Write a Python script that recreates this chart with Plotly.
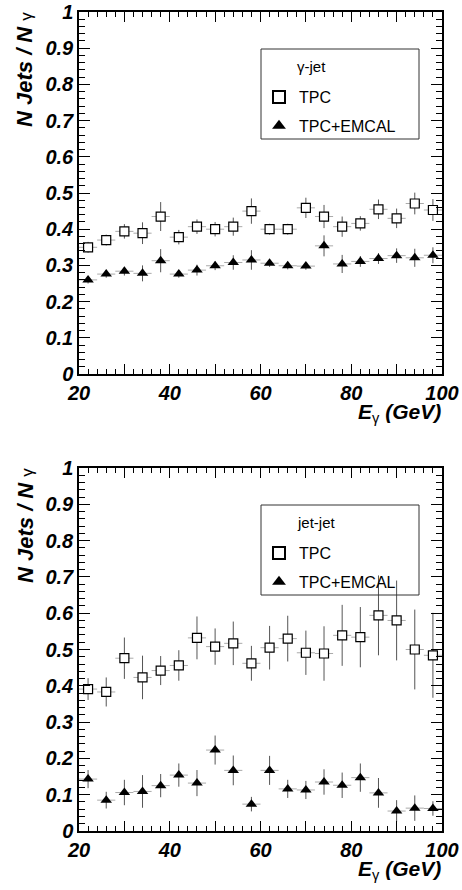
import plotly.graph_objects as go

W, H = 462, 890

e_gamma = [22, 26, 30, 34, 38, 42, 46, 50, 54, 58, 62, 66, 70, 74, 78, 82, 86, 90, 94, 98]
bin_half = 2

# gamma-jet
gj_tpc = [0.350, 0.370, 0.394, 0.389, 0.435, 0.378, 0.407, 0.400, 0.407, 0.450,
          0.400, 0.400, 0.459, 0.435, 0.407, 0.416, 0.455, 0.430, 0.471, 0.453]
gj_tpc_err = [0.015, 0.015, 0.020, 0.030, 0.040, 0.020, 0.020, 0.020, 0.025, 0.035,
              0.015, 0.015, 0.028, 0.032, 0.028, 0.020, 0.027, 0.027, 0.030, 0.030]
gj_emcal = [0.260, 0.276, 0.284, 0.278, 0.313, 0.276, 0.287, 0.299, 0.308, 0.315,
            0.306, 0.299, 0.298, 0.354, 0.304, 0.311, 0.319, 0.327, 0.321, 0.328]
gj_emcal_err = [0.010, 0.010, 0.012, 0.022, 0.032, 0.010, 0.015, 0.012, 0.020, 0.027,
                0.010, 0.010, 0.010, 0.029, 0.025, 0.015, 0.015, 0.020, 0.025, 0.022]

# jet-jet
jj_tpc = [0.391, 0.383, 0.476, 0.423, 0.442, 0.456, 0.532, 0.508, 0.517, 0.462,
          0.505, 0.530, 0.491, 0.489, 0.539, 0.534, 0.594, 0.580, 0.500, 0.484]
jj_tpc_err = [0.030, 0.040, 0.057, 0.060, 0.040, 0.042, 0.059, 0.050, 0.060, 0.048,
              0.060, 0.063, 0.061, 0.075, 0.084, 0.083, 0.110, 0.110, 0.110, 0.117]
jj_emcal = [0.143, 0.085, 0.106, 0.109, 0.125, 0.154, 0.132, 0.223, 0.167, 0.074,
            0.167, 0.116, 0.113, 0.135, 0.126, 0.147, 0.105, 0.055, 0.063, 0.062]
jj_emcal_err = [0.025, 0.023, 0.035, 0.045, 0.032, 0.032, 0.036, 0.040, 0.041, 0.020,
                0.040, 0.025, 0.025, 0.035, 0.035, 0.039, 0.041, 0.030, 0.035, 0.020]

x_tickvals = [20, 30, 40, 50, 60, 70, 80, 90, 100]
x_ticktext = ["20", " ", "40", " ", "60", " ", "80", " ", "100"]
y_tickvals = [0, 0.1, 0.2, 0.3, 0.4, 0.5, 0.6, 0.7, 0.8, 0.9, 1]
y_ticktext = ["0", "0.1", "0.2", "0.3", "0.4", "0.5", "0.6", "0.7", "0.8", "0.9", "1"]

panels = [("γ-jet", gj_tpc, gj_tpc_err, gj_emcal, gj_emcal_err),
          ("jet-jet", jj_tpc, jj_tpc_err, jj_emcal, jj_emcal_err)]


def px(p):
    return p / W


def py(p):
    return 1 - p / H


# plot frames in pixels: (top, bottom)
frames = [(12, 374), (468, 831)]
x_left, x_right = 79, 442

tickfont = dict(family="Liberation Sans", size=20, color="black", weight="bold", style="italic")

fig = go.Figure()
for i, (name, tpc, tpc_err, emc, emc_err) in enumerate(panels):
    n = "" if i == 0 else str(i + 1)
    leg = "legend" if i == 0 else "legend2"
    fig.add_trace(go.Scatter(
        x=e_gamma, y=tpc, mode="markers", name="TPC", legend=leg, legendgroup=f"a{i}",
        xaxis="x" + n, yaxis="y" + n,
        marker=dict(symbol="square", size=9, color="white", line=dict(color="black", width=1.2)),
        error_x=dict(type="constant", value=bin_half, width=0, thickness=1, color="#aaaaaa"),
        error_y=dict(type="data", array=tpc_err, width=0, thickness=1, color="#555555"),
    ))
    fig.add_trace(go.Scatter(
        x=e_gamma, y=emc, mode="markers", name="TPC+EMCAL", legend=leg, legendgroup=f"b{i}",
        xaxis="x" + n, yaxis="y" + n,
        marker=dict(symbol="triangle-up", size=10, color="black"),
        error_x=dict(type="constant", value=bin_half, width=0, thickness=1, color="#aaaaaa"),
        error_y=dict(type="data", array=emc_err, width=0, thickness=1, color="#555555"),
    ))

layout = dict(
    width=W, height=H,
    margin=dict(l=0, r=0, t=0, b=0),
    paper_bgcolor="white", plot_bgcolor="white",
    showlegend=True,
    annotations=[], shapes=[],
)

for i, (top, bot) in enumerate(frames):
    n = "" if i == 0 else str(i + 1)
    layout["xaxis" + n] = dict(
        domain=[px(x_left), px(x_right)], anchor="y" + n, range=[20, 100],
        tickmode="array", tickvals=x_tickvals, ticktext=x_ticktext,
        ticks="inside", ticklen=10, tickwidth=1, tickcolor="black",
        minor=dict(dtick=2, tick0=20, ticks="inside", ticklen=5, tickwidth=1, tickcolor="black"),
        showline=True, linecolor="black", linewidth=1.5, mirror="ticks",
        showgrid=False, zeroline=False, tickfont=tickfont, automargin=False,
    )
    layout["yaxis" + n] = dict(
        domain=[py(bot), py(top)], anchor="x" + n, range=[0, 1],
        tickmode="array", tickvals=y_tickvals, ticktext=y_ticktext,
        ticks="inside", ticklen=11, tickwidth=1, tickcolor="black",
        minor=dict(dtick=0.02, tick0=0, ticks="inside", ticklen=6, tickwidth=1, tickcolor="black"),
        showline=True, linecolor="black", linewidth=1.5, mirror="ticks",
        showgrid=False, zeroline=False, tickfont=tickfont, automargin=False,
    )
    # legend box + header
    box_top = top + 37
    layout["shapes"].append(dict(
        type="rect", xref="paper", yref="paper",
        x0=px(261), x1=px(419), y0=py(box_top + 90), y1=py(box_top),
        line=dict(color="#333333", width=1), fillcolor="rgba(0,0,0,0)",
    ))
    layout["annotations"].append(dict(
        text=panels[i][0], xref="paper", yref="paper", x=px(295), y=py(box_top + 17),
        xanchor="left", yanchor="middle", showarrow=False,
        font=dict(family="Liberation Sans", size=15, color="black"),
    ))
    layout["legend" if i == 0 else "legend2"] = dict(
        x=px(259), y=py(box_top + 31), xanchor="left", yanchor="top",
        bgcolor="rgba(0,0,0,0)", borderwidth=0, tracegroupgap=5,
        traceorder="grouped", itemsizing="constant",
        font=dict(family="Liberation Sans", size=16, color="black"),
    )
    # y title
    layout["annotations"].append(dict(
        text="N Jets / N <span style='font-size:17px;font-weight:normal;font-style:normal'>γ</span>",
        xref="paper", yref="paper", x=px(25), y=py(top + 58), textangle=-90,
        xanchor="center", yanchor="middle", showarrow=False,
        font=dict(family="Liberation Sans", size=22, color="black", weight="bold", style="italic"),
    ))
    # x title
    layout["annotations"].append(dict(
        text="E<sub><span style='font-weight:normal;font-style:normal'>γ</span></sub> (GeV)",
        xref="paper", yref="paper", x=px(443), y=py(bot + 39),
        xanchor="right", yanchor="middle", showarrow=False,
        font=dict(family="Liberation Sans", size=21, color="black", weight="bold", style="italic"),
    ))

fig.update_layout(**layout)
fig.write_html("out.html", config={"displayModeBar": False},
               post_script="document.body.style.margin='0';document.body.style.overflow='hidden';")
